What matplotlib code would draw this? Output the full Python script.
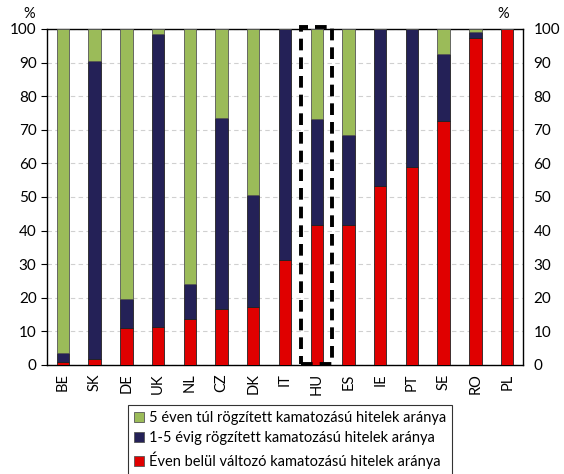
import numpy as np
import matplotlib.pyplot as plt
from matplotlib.patches import Rectangle

plt.rcParams['font.family'] = ['Lato', 'DejaVu Sans']

countries = ['BE', 'SK', 'DE', 'UK', 'NL', 'CZ', 'DK', 'IT', 'HU', 'ES', 'IE', 'PT', 'SE', 'RO', 'PL']
# share of loans with rate fixed < 1 year, 1-5 years, > 5 years (%)
within_1y = [1.0, 1.7, 11.0, 11.3, 13.8, 16.6, 17.4, 31.1, 41.6, 41.8, 53.3, 58.9, 72.7, 97.3, 100.0]
fixed_1_5 = [2.7, 88.8, 8.6, 87.1, 10.2, 56.8, 33.1, 68.9, 31.7, 26.6, 46.7, 41.1, 19.9, 1.8, 0.0]
over_5 = [96.3, 9.5, 80.4, 1.6, 76.0, 26.6, 49.5, 0.0, 26.7, 31.6, 0.0, 0.0, 7.4, 0.9, 0.0]

labels = ['5 éven túl rögzített kamatozású hitelek aránya',
          '1-5 évig rögzített kamatozású hitelek aránya',
          'Éven belül változó kamatozású hitelek aránya']
colors = ['#9BBB59', '#242157', '#E00000']

fig = plt.figure(figsize=(5.64, 4.74), dpi=100)
ax = fig.add_axes([0.0833, 0.23, 0.844, 0.709])

x = np.arange(len(countries))
w = 0.39
red = np.array(within_1y)
navy = np.array(fixed_1_5)
green = np.array(over_5)
b1 = ax.bar(x, red, w, color=colors[2], edgecolor='#222222', linewidth=0.6, zorder=3)
b2 = ax.bar(x, navy, w, bottom=red, color=colors[1], edgecolor='#222222', linewidth=0.6, zorder=3)
b3 = ax.bar(x, green, w, bottom=red + navy, color=colors[0], edgecolor='#555555', linewidth=0.6, zorder=3)

ax.set_xlim(-0.5, len(countries) - 0.5)
ax.set_ylim(0, 100)
ax.set_yticks(np.arange(0, 101, 10))
ax.grid(axis='y', color='#d0d0d0', linestyle=(0, (4, 3)), linewidth=0.8, zorder=0)
ax.set_xticks(x)
ax.set_xticklabels(countries, rotation=90, fontsize=10.5)
ax.tick_params(axis='x', length=0, pad=6)
ax.tick_params(axis='y', labelsize=11, direction='out', length=4, width=0.8,
               right=False, labelright=True)
for s in ax.spines.values():
    s.set_color('black')
    s.set_linewidth(1.0)

# highlight Hungary
hu = countries.index('HU')
ax.add_patch(Rectangle((hu - 0.48, 0.3), 0.96, 100.3, fill=False, edgecolor='black',
                       linewidth=2.8, linestyle=(0, (3, 1.8)), zorder=5, clip_on=False))

ax.text(-0.05, 1.025, '%', transform=ax.transAxes, fontsize=10.5, ha='left', va='bottom')
ax.text(0.97, 1.025, '%', transform=ax.transAxes, fontsize=10.5, ha='right', va='bottom')

leg = fig.legend([b3, b2, b1], labels, loc='upper center', bbox_to_anchor=(0.514, 0.16),
                 fontsize=10.5, frameon=True, fancybox=False, edgecolor='black',
                 handlelength=0.7, handleheight=0.7, handletextpad=0.3, labelspacing=0.42,
                 borderpad=0.4)
leg.get_frame().set_linewidth(0.8)
for h in leg.legend_handles:
    h.set_edgecolor('#555555')

fig.savefig('out.png', dpi=100)
